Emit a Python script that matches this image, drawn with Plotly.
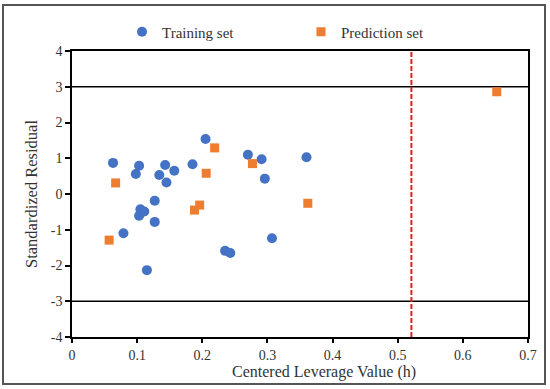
import plotly.graph_objects as go

# Training set
train_h = [0.063, 0.098, 0.103, 0.079, 0.103, 0.105, 0.111, 0.115, 0.127, 0.127,
           0.134, 0.143, 0.145, 0.157, 0.185, 0.205, 0.235, 0.243, 0.270, 0.291,
           0.296, 0.307, 0.360]
train_r = [0.87, 0.56, 0.79, -1.10, -0.61, -0.43, -0.49, -2.13, -0.19, -0.78,
           0.53, 0.81, 0.32, 0.65, 0.83, 1.54, -1.59, -1.65, 1.10, 0.97,
           0.43, -1.24, 1.03]
# Prediction set
pred_h = [0.057, 0.067, 0.188, 0.196, 0.206, 0.219, 0.277, 0.362, 0.652]
pred_r = [-1.29, 0.31, -0.45, -0.31, 0.58, 1.29, 0.85, -0.26, 2.86]

h_star = 0.521
res_limits = [3, -3]

x_ticks = [0, 0.1, 0.2, 0.3, 0.4, 0.5, 0.6, 0.7]
x_labels = ["0", "0.1", "0.2", "0.3", "0.4", "0.5", "0.6", "0.7"]
y_ticks = [4, 3, 2, 1, 0, -1, -2, -3, -4]
y_labels = ["4", "3", "2", "1", "0", "-1", "-2", "-3", "-4"]

FONT = "Palatino Linotype, Book Antiqua, Palatino, Liberation Serif, serif"
TXT = "#333333"

fig = go.Figure()
fig.add_trace(go.Scatter(x=train_h, y=train_r, mode="markers", name="Training set",
                         marker=dict(symbol="circle", size=10, color="#4472C4")))
fig.add_trace(go.Scatter(x=pred_h, y=pred_r, mode="markers", name="Prediction set",
                         marker=dict(symbol="square", size=9, color="#ED7D31")))

for r in res_limits:
    fig.add_shape(type="line", xref="x", yref="y", x0=0, x1=0.7, y0=r, y1=r,
                  line=dict(color="black", width=1.5), layer="below")
fig.add_shape(type="line", xref="x", yref="y", x0=h_star, x1=h_star, y0=-4, y1=4,
              line=dict(color="#E02020", width=2, dash="5px,2px"), layer="below")

# outer frame
L, R, T, B = 72, 22, 51, 52
W, H = 550, 389
pw, ph = W - L - R, H - T - B
def px(x): return (x - L) / pw
def py(y): return (H - B - y) / ph
fig.add_shape(type="rect", xref="paper", yref="paper",
              x0=px(3), x1=px(545), y0=py(384), y1=py(5),
              line=dict(color="#555555", width=2))

# axis titles placed as annotations to match the reference position
fig.add_annotation(text="Centered Leverage Value (h)", xref="paper", yref="paper",
                   x=px(324), y=py(372), xanchor="center", yanchor="middle",
                   showarrow=False, font=dict(family=FONT, size=16, color=TXT))
fig.add_annotation(text="Standardized Residual", xref="paper", yref="paper",
                   x=px(31), y=py(194), xanchor="center", yanchor="middle",
                   textangle=-90, showarrow=False,
                   font=dict(family=FONT, size=16.5, color=TXT))

fig.update_layout(
    width=W, height=H,
    margin=dict(l=L, r=R, t=T, b=B),
    paper_bgcolor="white", plot_bgcolor="white",
    font=dict(family=FONT, size=14, color=TXT),
    showlegend=True,
    legend=dict(orientation="h", x=px(122), xanchor="left", y=py(32), yanchor="middle",
                font=dict(family=FONT, size=15, color=TXT),
                itemwidth=30, entrywidth=134),
    xaxis=dict(range=[0, 0.7], tickvals=x_ticks, ticktext=x_labels,
               tickfont=dict(family=FONT, size=14, color=TXT),
               showgrid=False, zeroline=False, showline=True, linecolor="black",
               linewidth=1.5, mirror=True, ticks="outside", ticklen=4,
               tickcolor="black", tickwidth=1.5),
    yaxis=dict(range=[-4, 4], tickvals=y_ticks, ticktext=y_labels,
               tickfont=dict(family=FONT, size=14, color=TXT),
               showgrid=False, zeroline=False, showline=True, linecolor="black",
               linewidth=1.5, mirror=True, ticks="outside", ticklen=5,
               tickcolor="black", tickwidth=1.5),
)

fig.write_html("out.html", post_script="document.body.style.margin='0';",
               config={"displayModeBar": False})
